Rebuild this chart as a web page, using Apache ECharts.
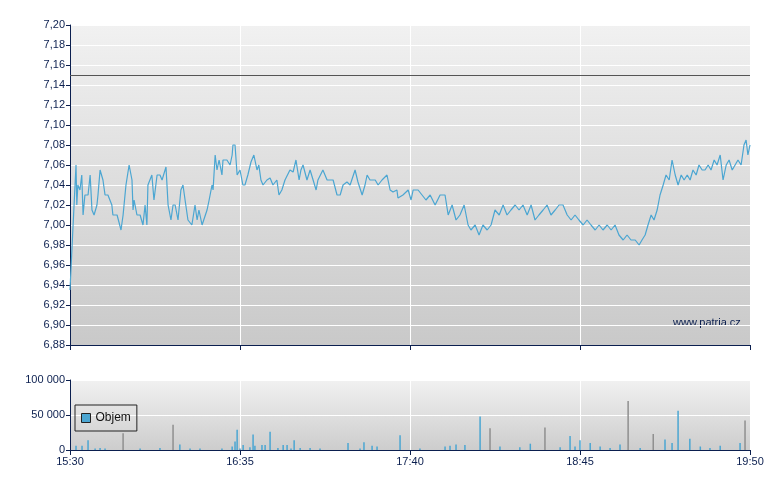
<!DOCTYPE html>
<html>
<head>
<meta charset="utf-8">
<script src="https://cdn.jsdelivr.net/npm/echarts@6/dist/echarts.min.js"></script>
<style>html,body{margin:0;padding:0;background:#fff}#main{width:780px;height:490px}</style>
</head>
<body>
<div id="main"></div>
<script>
// minutes after 15:30
var priceTime = [0,1,2.3,2.6,3,3.8,4.5,5,5.7,6.9,7.7,8.4,9.2,10.3,10.7,11.5,12.6,13.4,14.5,16,16.4,18,19.5,20.3,21.4,22.6,23.7,24.1,24.5,25.6,26.8,27.9,28.7,29.4,29.8,31.3,32.1,33.3,34.4,35.2,36.7,37.5,38.6,39.4,40.2,41.3,42.4,43.2,44,44.7,45.1,46.6,47.8,48.6,49.3,50.5,51.2,52.4,53.2,54.3,54.7,55.5,56.2,57,58.1,58.5,60,61.2,62,62.3,63.1,63.9,65,66.1,66.9,68,69.2,70.3,71.5,72.2,73,73.8,75.3,76.5,77.6,79.1,79.9,81,82.2,84.1,85.3,86.4,87.6,88.3,89.1,90.6,91.8,92.5,94.1,94.8,96.7,98.3,99,100.6,102.1,103.3,104.4,105.9,107.1,109,110.1,111.7,112.8,113.6,114.7,116.7,117.8,119.3,121.2,122.4,123.5,125,125.4,127.3,129.3,130.4,131.2,133.1,134.6,136.1,137.7,139.6,141.5,143.4,144.6,146.1,147.6,149.1,150.7,152.2,153.3,154.9,156.4,157.9,159.5,161,162.5,164.1,165.6,167.1,168.6,170.2,171.7,173.2,174.8,176.3,177.8,179.3,180.9,182.4,183.9,185.5,187,188.5,190.1,191.6,193.1,194.6,196.2,197.7,199.2,200.8,202.3,203.8,205.4,206.9,208.4,209.9,211.5,213,214.5,216.1,217.6,218.7,219.9,221,222.2,223.3,224.5,225.6,226.8,227.9,229.1,230.2,231.4,232.5,233.7,234.8,236,237.1,238.2,239.4,240.5,241.7,242.8,244,245.1,246.3,247.4,248.6,249.7,250.9,252,253.2,254.3,255.4,256.6,257.7,258.5,259.2,260];
var priceValue = [6.935,6.99,7.06,7.02,7.04,7.035,7.05,7.01,7.03,7.03,7.05,7.015,7.01,7.02,7.03,7.055,7.045,7.03,7.03,7.02,7.01,7.01,6.995,7.01,7.04,7.06,7.045,7.015,7.025,7.01,7.01,7.00,7.02,7.00,7.04,7.05,7.025,7.05,7.05,7.045,7.058,7.02,7.005,7.02,7.02,7.005,7.035,7.04,7.025,7.025,7.005,7.00,7.02,7.005,7.015,7.00,7.00,7.015,7.025,7.04,7.035,7.07,7.055,7.065,7.05,7.065,7.065,7.06,7.07,7.08,7.08,7.05,7.055,7.04,7.04,7.05,7.063,7.07,7.055,7.06,7.045,7.04,7.045,7.047,7.04,7.045,7.03,7.035,7.045,7.055,7.053,7.065,7.045,7.055,7.06,7.045,7.055,7.055,7.035,7.045,7.055,7.045,7.045,7.045,7.03,7.03,7.04,7.043,7.04,7.055,7.043,7.03,7.04,7.05,7.045,7.045,7.04,7.045,7.05,7.035,7.033,7.035,7.027,7.03,7.035,7.025,7.035,7.035,7.03,7.025,7.03,7.02,7.03,7.03,7.01,7.02,7.005,7.01,7.02,7.00,6.995,7.00,6.99,7.00,6.995,7.00,7.015,7.01,7.02,7.01,7.015,7.02,7.015,7.02,7.01,7.02,7.005,7.01,7.015,7.02,7.01,7.015,7.02,7.02,7.01,7.005,7.01,7.005,7.00,7.005,7.00,6.995,7.00,6.995,7.00,6.995,7.00,6.99,6.985,6.99,6.985,6.985,6.98,6.985,6.99,7.00,7.01,7.005,7.015,7.03,7.04,7.05,7.045,7.065,7.05,7.04,7.05,7.045,7.05,7.045,7.055,7.05,7.06,7.055,7.055,7.06,7.055,7.065,7.06,7.07,7.045,7.06,7.065,7.055,7.06,7.065,7.06,7.08,7.085,7.07,7.08];
var volTime = [2.3,4.6,6.9,9.6,11.5,13.4,26.8,34.4,42,45.9,49.7,58.1,62,63.1,63.9,65,66.2,68.8,70,70.7,73.4,74.6,76.5,79.5,81.5,83,84.5,85.7,88,91.8,95.6,106.3,110.9,112.4,115.5,117.4,126.2,133.8,143.4,145.3,147.6,151,156.8,164.4,172,176,187.4,191.2,193.1,195,198.9,202.7,206.5,210.3,218,227.5,230.2,232.5,237,241,244.7,248.6,256.2];
var volValue = [6000,6000,14000,2000,3000,2000,2000,3000,8000,2000,2000,2000,5000,12000,29000,2000,7000,4000,22000,6000,7000,7000,26000,3000,7000,7000,2000,14000,3000,3000,2000,10000,2000,11000,6000,5000,21000,2000,5000,6000,8000,7000,48000,5000,4000,9000,4000,20000,5000,14000,10000,5000,3000,8000,3000,15000,10000,56000,16000,5000,3000,6000,10000];
var volGrayTime = [20.3,39.4,160.6,181.6,213.4,223,258.1];
var volGrayValue = [24000,36000,31000,32000,70000,23000,42000];
var timeLabels = ['15:30','16:35','17:40','18:45','19:50'];
var refPrice = 7.15;

function zip(a, b) { return a.map(function (v, i) { return [v, b[i]]; }); }

var bg = new echarts.graphic.LinearGradient(0, 0, 0, 1, [
	{ offset: 0, color: '#f1f1f1' }, { offset: 1, color: '#c9c9c9' }
]);
var bg2 = new echarts.graphic.LinearGradient(0, 0, 0, 1, [
	{ offset: 0, color: '#f1f1f1' }, { offset: 1, color: '#cdcdcd' }
]);
var navy = '#0b1f4f';
var txt = { color: navy, fontSize: 11, fontFamily: 'Liberation Sans' };

function xAxis(idx, showLabel) {
	return {
		type: 'value', gridIndex: idx, min: 0, max: 260, interval: 65,
		axisLine: { lineStyle: { color: navy } },
		axisTick: { show: true, length: 5, lineStyle: { color: navy } },
		axisLabel: Object.assign({ show: showLabel, margin: 6, formatter: function (v) { return timeLabels[v / 65]; } }, txt),
		splitLine: { show: true, lineStyle: { color: '#ffffff', width: 1 } }
	};
}

var chart = echarts.init(document.getElementById('main'));
chart.setOption({
	animation: false,
	grid: [
		{ left: 70, right: 30, top: 25, height: 320, show: true, backgroundColor: bg, borderWidth: 0 },
		{ left: 70, right: 30, top: 380, height: 70, show: true, backgroundColor: bg2, borderWidth: 0 }
	],
	legend: {
		data: [{ name: 'Objem', itemStyle: { color: '#4ba6d2', borderColor: '#222', borderWidth: 1 } }],
		left: 75, top: 405, orient: 'vertical', icon: 'rect', itemWidth: 9, itemHeight: 9, itemGap: 4,
		padding: [7, 6, 7, 6], borderColor: '#222', borderWidth: 1, borderRadius: 0,
		textStyle: { color: '#111', fontSize: 12, fontFamily: 'Liberation Sans' }
	},
	xAxis: [xAxis(0, false), xAxis(1, true)],
	yAxis: [
		{
			type: 'value', gridIndex: 0, min: 6.88, max: 7.20, interval: 0.02,
			axisLine: { show: true, lineStyle: { color: navy } },
			axisTick: { show: true, length: 4, lineStyle: { color: navy } },
			axisLabel: Object.assign({ margin: 5, formatter: function (v) { return v.toFixed(2).replace('.', ','); } }, txt),
			splitLine: { lineStyle: { color: '#ffffff' } }
		},
		{
			type: 'value', gridIndex: 1, min: 0, max: 100000, interval: 50000,
			axisLine: { show: true, lineStyle: { color: navy } },
			axisTick: { show: true, length: 4, lineStyle: { color: navy } },
			axisLabel: Object.assign({ margin: 5, formatter: function (v) { return v === 0 ? '0' : String(v).replace(/\B(?=(\d{3})+(?!\d))/g, ' '); } }, txt),
			splitLine: { lineStyle: { color: '#ffffff' } }
		}
	],
	series: [
		{
			type: 'line', xAxisIndex: 0, yAxisIndex: 0, data: zip(priceTime, priceValue),
			symbol: 'none', lineStyle: { color: '#4ba6d2', width: 1.2 },
			markLine: {
				silent: true, symbol: 'none', label: { show: false },
				lineStyle: { color: '#555', width: 1, type: 'solid' },
				data: [{ yAxis: refPrice }]
			}
		},
		{
			name: 'Objem', type: 'bar', xAxisIndex: 1, yAxisIndex: 1, data: zip(volTime, volValue),
			barWidth: 1.5, itemStyle: { color: '#4ba6d2' }
		},
		{
			type: 'bar', xAxisIndex: 1, yAxisIndex: 1, data: zip(volGrayTime, volGrayValue),
			barWidth: 1.5, barGap: '-100%', itemStyle: { color: '#8f8f8f' }
		}
	],
	graphic: [{
		type: 'text', left: 673, top: 317,
		style: { text: 'www.patria.cz', fill: '#0b1f4f', font: '11px "Liberation Sans"' }
	}]
});
</script>
</body>
</html>
